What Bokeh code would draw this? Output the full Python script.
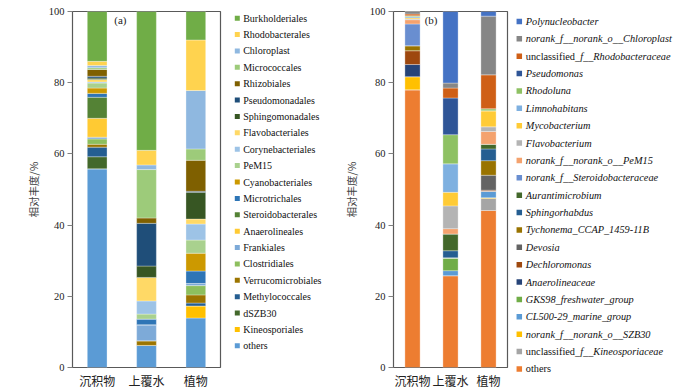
from bokeh.plotting import figure
from bokeh.models import FactorRange, Range1d, ColumnDataSource, Label
from bokeh.layouts import row, column
from bokeh.core.properties import value
from bokeh.embed import file_html
from bokeh.resources import INLINE

categories = ["沉积物", "上覆水", "植物"]
y_ticks = [0, 20, 40, 60, 80, 100]

# ---------- panel (a): order level, stacked bottom -> top ----------
names_a = ["others", "Kineosporiales", "dSZB30", "Methylococcales", "Verrucomicrobiales",
           "Clostridiales", "Frankiales", "Anaerolineales", "Steroidobacterales",
           "Microtrichales", "Cyanobacteriales", "PeM15", "Corynebacteriales",
           "Flavobacteriales", "Sphingomonadales", "Pseudomonadales", "Rhizobiales",
           "Micrococcales", "Chloroplast", "Rhodobacterales", "Burkholderiales"]
sediment_a = [55.8, 0.0, 3.4, 2.7, 0.8, 1.5, 0.5, 5.3, 5.9, 1.1, 1.5, 1.4, 0.3, 0.7, 0.4,
              0.5, 1.9, 0.5, 0.6, 1.2, 14.0]
water_a = [6.2, 0.0, 0.0, 0.0, 1.3, 0.0, 4.5, 0.0, 0.0, 1.6, 0.0, 1.4, 3.7, 6.6, 3.2,
           12.0, 1.5, 13.6, 1.3, 4.1, 39.0]
plant_a = [13.9, 3.4, 0.0, 0.8, 2.3, 2.6, 0.6, 0.0, 0.0, 3.5, 5.0, 3.7, 4.5, 1.4, 7.5,
           0.3, 8.7, 3.2, 16.4, 14.2, 8.0]
colors_a = ["#5B9BD5", "#FFC000", "#43682B", "#255E91", "#9C7500", "#8DBF5E", "#7DAAD8",
            "#FFCA33", "#548235", "#2E75B6", "#CC9900", "#A9D18E", "#9DC3E6", "#FFD966",
            "#375623", "#1F4E79", "#7F6000", "#9DCB7A", "#8FB8E0", "#FFD34F", "#70AD47"]

# ---------- panel (b): genus level, stacked bottom -> top ----------
names_b = ["others", "unclassified_f__Kineosporiaceae", "norank_f__norank_o__SZB30",
           "CL500-29_marine_group", "GKS98_freshwater_group", "Anaerolineaceae",
           "Dechloromonas", "Devosia", "Tychonema_CCAP_1459-11B", "Sphingorhabdus",
           "Aurantimicrobium", "norank_f__Steroidobacteraceae", "norank_f__norank_o__PeM15",
           "Flavobacterium", "Mycobacterium", "Limnohabitans", "Rhodoluna", "Pseudomonas",
           "unclassified_f__Rhodobacteraceae", "norank_f__norank_o__Chloroplast",
           "Polynucleobacter"]
sediment_b = [78.0, 0.0, 3.7, 0.0, 0.0, 3.4, 3.9, 0.0, 1.4, 0.0, 0.0, 6.1, 1.2, 0.2, 0.3,
              0.3, 0.3, 0.0, 0.5, 0.7, 0.0]
water_b = [25.8, 0.0, 0.0, 1.4, 3.6, 0.0, 0.0, 0.0, 0.0, 2.0, 4.7, 0.0, 1.5, 6.4, 3.8,
           8.0, 8.2, 10.3, 2.8, 1.4, 20.1]
plant_b = [44.1, 3.4, 0.2, 1.8, 0.0, 0.0, 0.3, 4.2, 4.1, 3.3, 1.3, 0.0, 3.6, 1.3, 4.5,
           0.0, 0.6, 0.0, 9.5, 16.5, 1.3]
colors_b = ["#ED7D31", "#A5A5A5", "#FFC000", "#5B9BD5", "#70AD47", "#264478", "#9E480E",
            "#636363", "#997300", "#255E91", "#43682B", "#698ED0", "#F4A26E", "#B4B4B4",
            "#FFCB36", "#7EB0E0", "#8EC163", "#2F5597", "#CF5F16", "#868686", "#4472C4"]

SERIF = "Liberation Serif"
CJK = "Noto Sans CJK SC"
H = 391
TOP = 11
BOTTOM = 24


def bar_panel(names, cols, series, tag, tag_x, width, left, right, label_standoff):
    data = {"cat": categories}
    for i, n in enumerate(names):
        data[n] = [s[i] for s in series]
    src = ColumnDataSource(data)
    p = figure(x_range=FactorRange(*categories), y_range=Range1d(0, 100),
               width=width, height=H, output_backend="svg", toolbar_location=None,
               min_border_left=left, min_border_right=right, min_border_top=TOP,
               min_border_bottom=BOTTOM)
    p.vbar_stack(names, x="cat", width=0.4, color=cols, source=src,
                 line_color="white", line_alpha=0.45, line_width=0.7)
    p.xgrid.visible = False
    p.ygrid.visible = False
    p.outline_line_color = "#595959"
    p.outline_line_width = 1.2
    p.yaxis.ticker = y_ticks
    p.yaxis.minor_tick_line_color = None
    p.yaxis.major_tick_in = 0
    p.yaxis.major_tick_out = 5
    p.yaxis.major_tick_line_color = "#7f7f7f"
    p.yaxis.axis_line_color = None
    p.yaxis.major_label_text_font = SERIF
    p.yaxis.major_label_text_font_size = "10.5px"
    p.yaxis.major_label_text_color = "#222222"
    p.yaxis.major_label_standoff = 3
    p.yaxis.axis_label = "相对丰度/%"
    p.yaxis.axis_label_text_font = CJK
    p.yaxis.axis_label_text_font_style = "normal"
    p.yaxis.axis_label_text_font_size = "10.5px"
    p.yaxis.axis_label_standoff = label_standoff
    p.xaxis.axis_line_color = None
    p.xaxis.major_tick_in = 0
    p.xaxis.major_tick_out = 0
    p.xaxis.major_tick_line_color = None
    p.xaxis.minor_tick_line_color = None
    p.xaxis.major_label_text_font = CJK
    p.xaxis.major_label_text_font_size = "12px"
    p.xaxis.major_label_text_color = "#222222"
    p.xaxis.major_label_standoff = 4
    p.add_layout(Label(x=tag_x, y=97.5, text=tag, text_align="center",
                       text_baseline="middle", text_font=SERIF,
                       text_font_size="11px", text_color="#222222"))
    return p


# Times / Liberation Serif regular advance widths (per 1000 em) for the upright prefix
ADV = {"u": 500, "n": 500, "c": 444, "l": 278, "a": 444, "s": 389, "i": 278, "f": 333,
       "e": 444, "d": 500, "o": 500, "t": 278, "h": 500, "r": 333}


def legend_panel(names, cols, width, mark_x, text_x, first_y, step, size_px, mark, mixed,
                 bottom):
    # y range expressed in page pixels (frame spans TOP .. H-bottom)
    p = figure(x_range=Range1d(0, width), y_range=Range1d(H - bottom, TOP), width=width,
               height=H, output_backend="svg", toolbar_location=None,
               min_border_left=0, min_border_right=0, min_border_top=TOP,
               min_border_bottom=bottom)
    p.axis.visible = False
    p.grid.visible = False
    p.outline_line_color = None
    top_down = list(reversed(names))
    c_down = list(reversed(cols))
    ys = [first_y + i * step for i in range(len(top_down))]
    p.scatter(x=[mark_x] * len(ys), y=ys, marker="square", size=mark, color=c_down,
              line_color=None)
    fs = float(size_px.replace("px", ""))
    pieces = []
    for n, y in zip(top_down, ys):
        if not mixed or n == "others":
            pieces.append((text_x, y, n, "normal"))
        elif n.startswith("unclassified"):
            pre = "unclassified"
            pieces.append((text_x, y, pre, "normal"))
            w = sum(ADV[ch] for ch in pre) / 1000.0 * fs
            pieces.append((text_x + w, y, n[len(pre):], "italic"))
        else:
            pieces.append((text_x, y, n, "italic"))
    for x, y, t, style in pieces:
        p.add_layout(Label(x=x, y=y, text=t, text_font=SERIF, text_font_size=size_px,
                           text_baseline="middle", text_align="left",
                           text_font_style=style, text_color="#111111"))
    return p


pa = bar_panel(names_a, colors_a, [sediment_a, water_a, plant_a], "(a)", 0.97,
               width=226, left=72, right=6, label_standoff=5)
la = legend_panel(names_a, colors_a, width=114, mark_x=10.8, text_x=16.7, first_y=17.7,
                  step=16.38, size_px="10px", mark=5, mixed=False, bottom=BOTTOM)
pb = bar_panel(names_b, colors_b, [sediment_b, water_b, plant_b], "(b)", 0.99,
               width=169, left=49, right=2, label_standoff=8)
lb = legend_panel(names_b, colors_b, width=191, mark_x=9.8, text_x=16.3, first_y=21.0,
                  step=17.37, size_px="10.3px", mark=5.5, mixed=True, bottom=6)

layout = row(pa, la, pb, column(lb), spacing=0)
open("out.html", "w").write(file_html(layout, INLINE))
